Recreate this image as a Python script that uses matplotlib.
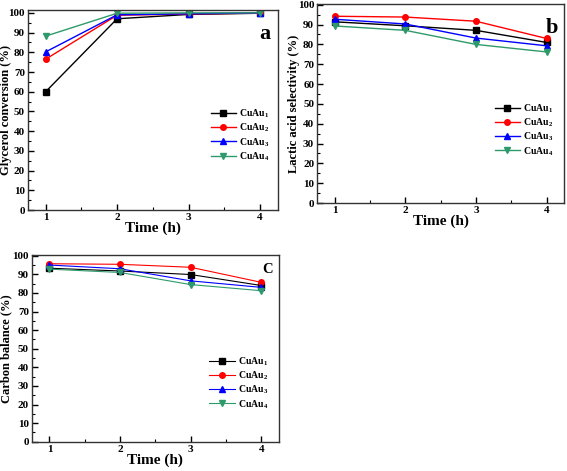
import matplotlib
matplotlib.use('Agg')
import matplotlib.pyplot as plt
from matplotlib.ticker import MultipleLocator

plt.rcParams['font.family'] = ['Liberation Serif', 'DejaVu Serif']
plt.rcParams['font.weight'] = 'bold'
plt.rcParams['mathtext.fontset'] = 'custom'
plt.rcParams['mathtext.rm'] = 'Liberation Serif:bold'
plt.rcParams['mathtext.bf'] = 'Liberation Serif:bold'

time_h = [1, 2, 3, 4]
labels = ['CuAu$_1$', 'CuAu$_2$', 'CuAu$_3$', 'CuAu$_4$']
colors = ['black', '#ff0000', '#0000ff', '#2e9a6a']
markers = ['s', 'o', '^', 'v']

glycerol_conv = [
    [60.0, 97.0, 99.2, 99.8],
    [76.5, 98.8, 99.4, 99.9],
    [80.2, 99.0, 99.5, 100.0],
    [88.2, 99.8, 100.0, 100.0],
]
lactic_sel = [
    [91.4, 89.4, 87.1, 81.0],
    [94.2, 93.8, 91.7, 83.0],
    [92.7, 90.3, 83.2, 79.3],
    [89.3, 87.1, 80.0, 76.2],
]
carbon_bal = [
    [93.3, 91.8, 89.9, 84.0],
    [95.7, 95.4, 93.8, 85.7],
    [95.0, 93.0, 86.5, 83.0],
    [92.8, 91.0, 84.5, 81.2],
]

fig = plt.figure(figsize=(5.67, 4.71), dpi=100)


def panel(rect, series, ylabel, ylab_x, tag, tagpos, tagsize, ytop, legpos, lw):
    ax = fig.add_axes(rect)
    for vals, lab, col, mk in zip(series, labels, colors, markers):
        ax.plot(time_h, vals, color=col, marker=mk, markersize=4,
                linewidth=lw, label=lab)
    ax.set_xlim(0.75, 4.25)
    ax.set_ylim(0, ytop)
    ax.xaxis.set_major_locator(MultipleLocator(1))
    ax.xaxis.set_minor_locator(MultipleLocator(0.5))
    ax.yaxis.set_major_locator(MultipleLocator(10))
    ax.yaxis.set_minor_locator(MultipleLocator(5))
    ax.tick_params(which='both', direction='in', top=False, right=False,
                   labelsize=8, pad=2)
    ax.tick_params(which='major', length=4, width=1)
    ax.tick_params(which='minor', length=2.5, width=0.8)
    for lbl in ax.get_xticklabels() + ax.get_yticklabels():
        lbl.set_fontweight('bold')
    for sp in ax.spines.values():
        sp.set_linewidth(1.0)
        sp.set_color('#333333')
    ax.set_xlabel('Time (h)', fontsize=11, fontweight='bold', labelpad=0)
    ax.set_ylabel(ylabel, fontsize=9, fontweight='bold')
    ax.yaxis.set_label_coords(ylab_x, 0.5)
    ax.text(tagpos[0], tagpos[1], tag, transform=ax.transAxes,
            fontsize=tagsize, fontweight='bold', ha='right', va='top')
    ax.legend(loc='center right', bbox_to_anchor=legpos, frameon=False,
              fontsize=7, handlelength=2.6, handletextpad=0.3,
              labelspacing=0.15, borderaxespad=0, borderpad=0)
    return ax


panel([0.049, 0.554, 0.441, 0.425], glycerol_conv,
      'Glycerol conversion (%)', -0.064, 'a', (0.97, 0.93), 16, 101.5,
      (0.965, 0.375), 1.0)
panel([0.559, 0.569, 0.436, 0.423], lactic_sel,
      'Lactic acid selectivity (%)', -0.069, 'b', (0.975, 0.93), 16, 100.5,
      (0.955, 0.367), 1.0)
panel([0.056, 0.062, 0.436, 0.397], carbon_bal,
      'Carbon balance (%)', -0.077, 'C', (0.975, 0.955), 10.5, 100.5,
      (0.955, 0.315), 0.8)

fig.savefig('out.png', dpi=100)
